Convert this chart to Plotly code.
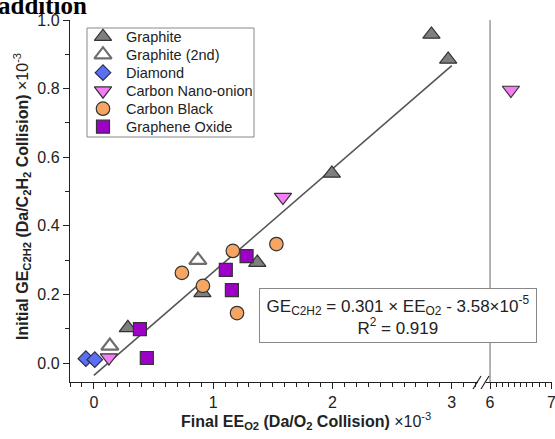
import plotly.graph_objects as go

# ---------------- data (units of 1e-3) ----------------
graphite_x = [0.285, 0.91, 1.37, 1.995, 2.83, 2.97]
graphite_y = [0.103, 0.205, 0.293, 0.553, 0.958, 0.885]

graphite2_x = [0.134, 0.872]
graphite2_y = [0.050, 0.300]

diamond_x = [-0.067, 0.008]
diamond_y = [0.013, 0.010]

cno_x = [0.126, 1.585, 6.34]
cno_y = [0.016, 0.484, 0.796]

cblack_x = [0.738, 0.914, 1.165, 1.200, 1.530]
cblack_y = [0.263, 0.225, 0.327, 0.146, 0.347]

go_x = [0.386, 0.444, 1.106, 1.157, 1.280]
go_y = [0.099, 0.015, 0.272, 0.213, 0.312]

fit_slope = 0.301
fit_intercept = -0.0358
fit_x = [0.0, 3.0]

x1_ticks = [0, 1, 2, 3]
x2_ticks = [6, 7]
y_ticks = [0.0, 0.2, 0.4, 0.6, 0.8, 1.0]

# ---------------- layout helpers ----------------
W, H = 555, 439
L, R, T, B = 70, 552, 20, 382          # plot area in pixels
BRK1, BRK2 = 478, 486                 # axis break (pixels)

def px(xp):
    return (xp - L) / (R - L)

def py(yp):
    return (B - yp) / (B - T)

FONT = "Arial, Liberation Sans, sans-serif"
AXC = "#222222"

series = [
    ("Graphite", graphite_x, graphite_y,
     dict(symbol="triangle-up", size=15, color="#7f7f7f", line=dict(color="#333333", width=1.2))),
    ("Graphite (2nd)", graphite2_x, graphite2_y,
     dict(symbol="triangle-up-open", size=15, color="#6e6e6e", line=dict(color="#6e6e6e", width=2.2))),
    ("Diamond", diamond_x, diamond_y,
     dict(symbol="diamond", size=12, color="#5a6ff2", line=dict(color="#2b2b55", width=1.2))),
    ("Carbon Nano-onion", cno_x, cno_y,
     dict(symbol="triangle-down", size=15, color="#f57ef5", line=dict(color="#333333", width=1.2))),
    ("Carbon Black", cblack_x, cblack_y,
     dict(symbol="circle", size=13.5, color="#f6a562", line=dict(color="#333333", width=1.2))),
    ("Graphene Oxide", go_x, go_y,
     dict(symbol="square", size=13, color="#9d00c6", line=dict(color="#333333", width=1.2))),
]

fig = go.Figure()

# fit line
fit_y = [fit_slope * v + fit_intercept for v in fit_x]
fig.add_trace(go.Scatter(x=fit_x, y=fit_y, mode="lines", xaxis="x", yaxis="y",
                         line=dict(color="#555555", width=1.6), showlegend=False,
                         hoverinfo="skip"))

for name, xs, ys, mk in series:
    xa = [v for v in xs if v < 5]
    ya = [ys[i] for i, v in enumerate(xs) if v < 5]
    xb = [v for v in xs if v >= 5]
    yb = [ys[i] for i, v in enumerate(xs) if v >= 5]
    fig.add_trace(go.Scatter(x=xa, y=ya, mode="markers", name=name, marker=mk,
                             xaxis="x", yaxis="y", showlegend=False))
    if xb:
        fig.add_trace(go.Scatter(x=xb, y=yb, mode="markers", name=name, marker=mk,
                                 xaxis="x2", yaxis="y", showlegend=False))

# ---------------- custom legend (own small axis, pixel units inside box) ----------------
LG_L, LG_T, LG_R, LG_B = 87, 28, 254, 137
ROW0, ROWSTEP, MK_X, TXT_X = 8.7, 18.0, 16, 37
for i, (name, xs, ys, mk) in enumerate(series):
    fig.add_trace(go.Scatter(x=[MK_X], y=[ROW0 + ROWSTEP * i], mode="markers", marker=mk,
                             xaxis="x3", yaxis="y3", showlegend=False, hoverinfo="skip"))
    fig.add_annotation(text=name, xref="x3", yref="y3", x=TXT_X, y=ROW0 + ROWSTEP * i,
                       xanchor="left", yanchor="middle", showarrow=False,
                       font=dict(family=FONT, size=14.5, color=AXC))

common_axis = dict(showline=True, linecolor=AXC, linewidth=1.4, ticks="outside",
                   tickcolor=AXC, ticklen=6, tickwidth=1.3, showgrid=False, zeroline=False,
                   tickfont=dict(family=FONT, size=16, color=AXC),
                   ticklabeloverflow="allow", automargin=False,
                   minor=dict(dtick=0.1, ticks="outside", ticklen=3.5, tickcolor=AXC,
                              tickwidth=1.2, showgrid=False))

xt = ("<b>Final EE<sub>O2</sub> (Da/O<sub>2</sub> Collision)</b> \u00d710<sup>-3</sup>")
yt = ("<b>Initial GE<sub>C2H2</sub> (Da/C<sub>2</sub>H<sub>2</sub> Collision)</b> "
      "\u00d710<sup>-3</sup>")

fig.update_layout(
    width=W, height=H,
    margin=dict(l=L, r=W - R, t=T, b=H - B, autoexpand=False),
    paper_bgcolor="white", plot_bgcolor="white",
    font=dict(family=FONT, color=AXC),
    xaxis=dict(domain=[0, px(BRK1)], range=[-0.2, 3.22], tickvals=x1_ticks,
               anchor="y", **common_axis),
    xaxis2=dict(domain=[px(BRK2), 1], range=[5.934, 7.01], tickvals=x2_ticks,
                anchor="y", **common_axis),
    yaxis=dict(domain=[0, 1], range=[-0.055, 1.0], tickvals=y_ticks,
               tickformat=".1f", anchor="x", **common_axis),
    xaxis3=dict(domain=[px(LG_L), px(LG_R)], range=[0, LG_R - LG_L], visible=False,
                anchor="y3", fixedrange=True),
    yaxis3=dict(domain=[py(LG_B), py(LG_T)], range=[LG_B - LG_T, 0], visible=False,
                anchor="x3", fixedrange=True),
    showlegend=False,
)

# legend frame
fig.add_shape(type="rect", xref="paper", yref="paper", x0=px(LG_L), x1=px(LG_R),
              y0=py(LG_B), y1=py(LG_T), line=dict(color="#888888", width=1),
              fillcolor="rgba(0,0,0,0)", layer="above")

# axis titles as annotations for precise placement
fig.add_annotation(text=xt, xref="paper", yref="paper", x=px(306), y=py(421),
                   showarrow=False, font=dict(family=FONT, size=16, color=AXC),
                   xanchor="center", yanchor="middle")
fig.add_annotation(text=yt, xref="paper", yref="paper", x=px(22), y=py(197),
                   showarrow=False, textangle=-90, font=dict(family=FONT, size=16, color=AXC),
                   xanchor="center", yanchor="middle")

# equation box
fig.add_annotation(
    text=("GE<sub>C2H2</sub> = 0.301 \u00d7 EE<sub>O2</sub> - 3.58\u00d710<sup>-5</sup><br>"
          "R<sup>2</sup> = 0.919"),
    xref="paper", yref="paper", x=px(398), y=py(315.5), xanchor="center", yanchor="middle",
    showarrow=False, align="center", font=dict(family=FONT, size=17, color=AXC),
    bgcolor="white", bordercolor="#888888", borderwidth=1, borderpad=1, width=274, height=51)

# cropped title at top-left
fig.add_annotation(text="<b>addition</b>", xref="paper", yref="paper",
                   x=px(89), y=py(5), xanchor="right", yanchor="middle", showarrow=False,
                   font=dict(family="Liberation Serif, Times New Roman, serif", size=25,
                             color="#000000"))

# vertical break line at x = 6
fig.add_shape(type="line", xref="x2", yref="paper", x0=6, x1=6, y0=0, y1=1,
              line=dict(color="#9a9a9a", width=1.5), layer="below")

# break marks on x axis
for dx in (0, 8):
    fig.add_shape(type="line", xref="paper", yref="paper",
                  x0=px(BRK1 - 5 + dx), y0=py(B + 7), x1=px(BRK1 + 3 + dx), y1=py(B - 6),
                  line=dict(color=AXC, width=1.2))

fig.write_html("out.html")
